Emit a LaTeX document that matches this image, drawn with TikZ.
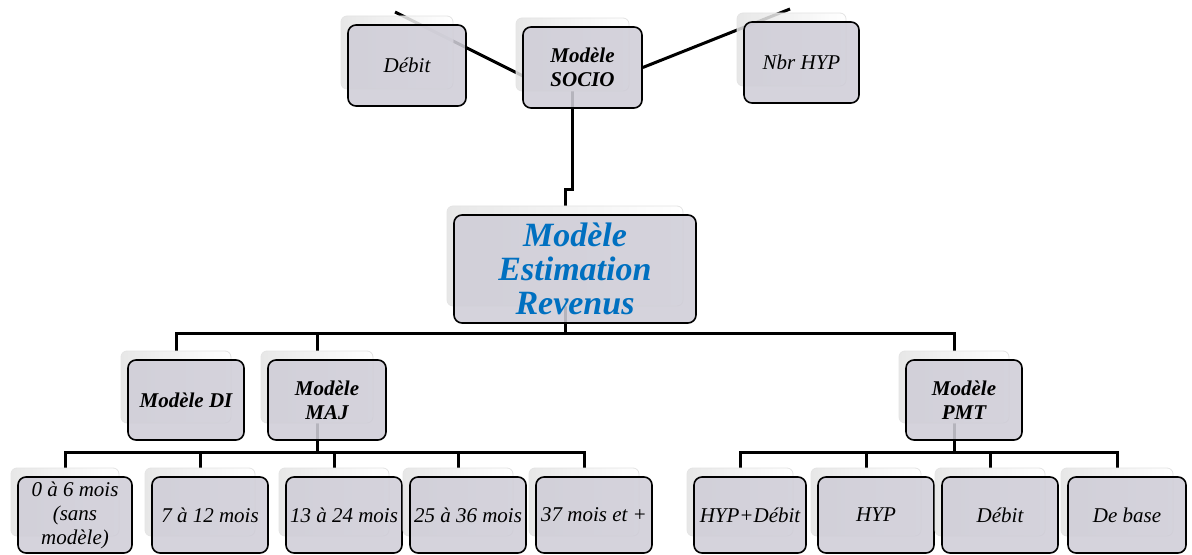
\documentclass[tikz,border=0pt]{standalone}
\usepackage{fontspec}
\setmainfont{Liberation Serif}
\usetikzlibrary{positioning,backgrounds}
\definecolor{boxfill}{RGB}{207,205,215}
\definecolor{titleblue}{RGB}{0,112,192}
\newcommand\hd{\bfseries}
\newcommand\ttl{\fontsize{17}{17}\selectfont\bfseries\color{titleblue}}

\begin{document}
\begin{tikzpicture}[x=0.5pt, y=-0.5pt,
    back/.style={rectangle, rounded corners=3pt, draw=gray!22, left color=gray!22,
                 middle color=white, right color=white, fill opacity=0.85},
    front/.style={rectangle, rounded corners=4pt, draw=black, line width=0.8pt,
                  fill=boxfill, fill opacity=0.88, text opacity=1, align=center,
                  inner sep=1pt, font=\fontsize{10.5}{12}\selectfont\itshape},
    link/.style={line width=1.5pt}]
    \useasboundingbox (0,0) rectangle (1192,555);

    % free ends of the top links and the two bus levels
    \coordinate (dbA) at (395,12);
    \coordinate (dbB) at (523,76);
    \coordinate (nbA) at (790,9);
    \coordinate (jog) at (0,190);
    \coordinate (bus1) at (0,333);
    \coordinate (bus2) at (0,452);

    % cards: shadow card first, then the front card
    \foreach \n/\x/\y/\w/\h/\t in {
        debit/407/65.5/118/81/{Débit},
        socio/582.5/67.5/119/81/{\hd Modèle\\\hd SOCIO},
        nbr/801.5/62.5/115/81/{Nbr HYP},
        main/575/269/242/108/{\ttl Modèle\\[5pt]\ttl Estimation\\[5pt]\ttl Revenus},
        di/186/400/116/80/{\hd Modèle DI},
        maj/327/400/118/80/{\hd Modèle\\\hd MAJ},
        pmt/964/400/116/80/{\hd Modèle\\\hd PMT},
        m1/75/515/114/76/{0 à 6 mois\\(sans\\modèle)},
        m2/210/515/116/76/{7 à 12 mois},
        m3/344/515/116/76/{13 à 24 mois},
        m4/468/515/116/76/{25 à 36 mois},
        m5/594/515/116/76/{37 mois et +},
        p1/750/515/112/76/{HYP+Débit},
        p2/876/515/116/76/{HYP},
        p3/1000/515/116/76/{Débit},
        p4/1127/515/118/76/{De base}}
    {
        \node[back, minimum width=\w*0.5pt-3pt, minimum height=\h*0.5pt-4pt]
            (\n-b) at (\x-10,\y-13) {};
        \node[front, minimum width=\w*0.5pt, minimum height=\h*0.5pt]
            (\n) at (\x,\y) {\t};
    }

    % links, kept under the cards
    \begin{pgfonlayer}{background}
        \draw[link] (dbA) -- (dbB);
        \draw[link] (socio.east) -- (nbA);
        \draw[link] (socio-b.south) -- (socio-b.south |- jog) -| (main-b.north);
        \foreach \c in {di,maj,pmt}
            \draw[link] (main-b.south) -- (main-b.south |- bus1) -| (\c-b.north);
        \foreach \c in {m1,m2,m3,m4,m5}
            \draw[link] (maj-b.south) -- (maj-b.south |- bus2) -| (\c-b.north);
        \foreach \c in {p1,p2,p3,p4}
            \draw[link] (pmt-b.south) -- (pmt-b.south |- bus2) -| (\c-b.north);
    \end{pgfonlayer}
\end{tikzpicture}
\end{document}
